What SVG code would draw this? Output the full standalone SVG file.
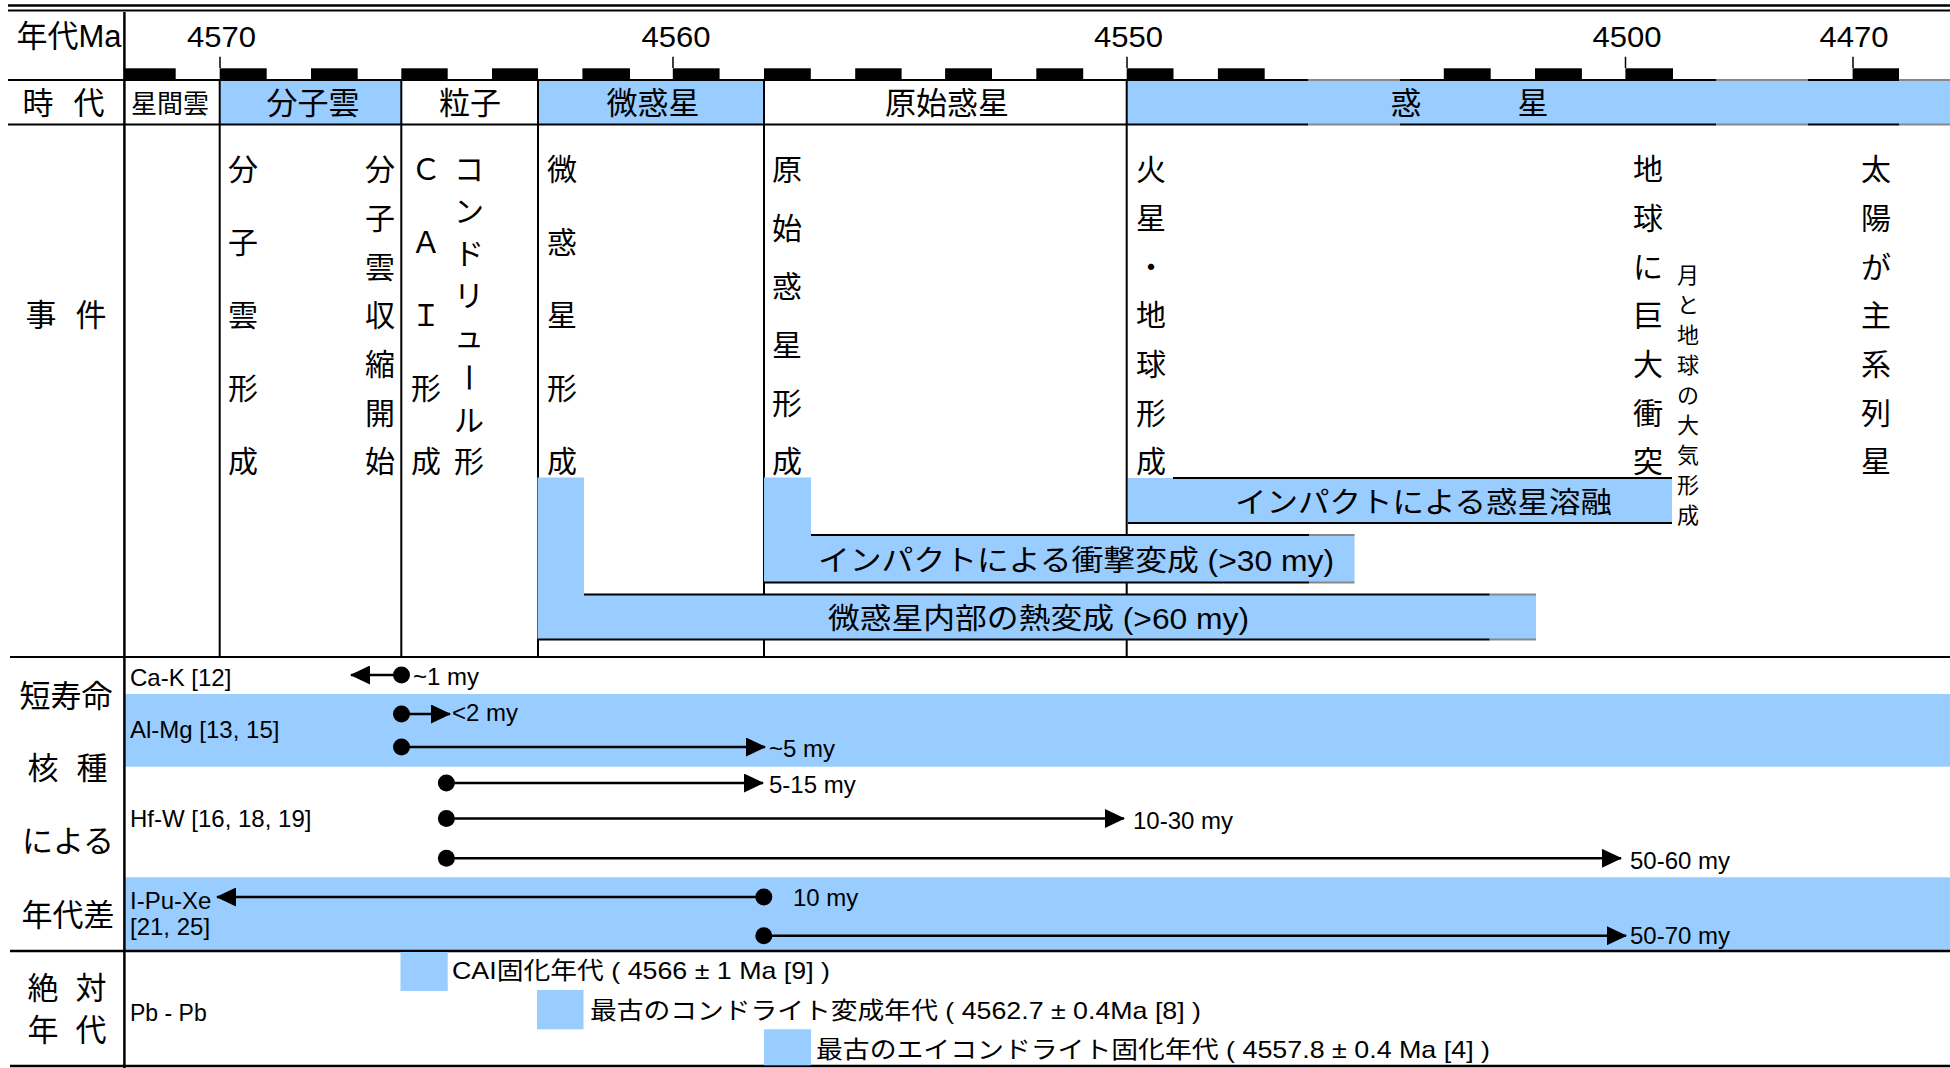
<svg xmlns="http://www.w3.org/2000/svg" width="1950" height="1068" viewBox="0 0 1950 1068">
<style>
text{font-family:'Liberation Sans','Noto Sans CJK JP',sans-serif;fill:#000}
.b31{font-size:31px}
.ev{font-size:30px;text-anchor:middle}
.ev22{font-size:22px;text-anchor:middle}
.num{font-size:30px}
.sm{font-size:24px}
.bx{font-size:29px}
.blue{fill:#99CCFF}
.blk{fill:#000}
.ln{stroke:#000;stroke-width:2;fill:none}
.gl{stroke:#888;stroke-width:2;fill:none}
.ar{stroke:#000;stroke-width:2.5;fill:none;marker-start:url(#dot);marker-end:url(#head)}
</style>
<defs>
<marker id="head" viewBox="0 0 20 19" refX="19" refY="9.5" markerWidth="20" markerHeight="19" markerUnits="userSpaceOnUse" orient="auto"><path d="M0,0 L20,9.5 L0,19 Z" fill="#000"/></marker>
<marker id="dot" viewBox="0 0 18 18" refX="9" refY="9" markerWidth="18" markerHeight="18" markerUnits="userSpaceOnUse" orient="auto"><circle cx="9" cy="9" r="8.5" fill="#000"/></marker>
</defs>
<rect width="1950" height="1068" fill="#fff"/>

<!-- backgrounds -->
<g id="bands">
<rect class="blue" x="219.7" y="80" width="181.6" height="44"/>
<rect class="blue" x="538" y="80" width="226" height="44"/>
<rect class="blue" x="1126.7" y="80" width="823.3" height="44"/>
<rect class="blue" x="124.4" y="694" width="1825.6" height="72.7"/>
<rect class="blue" x="124.4" y="877.3" width="1825.6" height="73"/>
</g>

<!-- frame lines -->
<g id="frame">
<line class="ln" x1="8" y1="5.5" x2="1950" y2="5.5" style="stroke-width:2.6"/>
<line class="ln" x1="8" y1="10.5" x2="1950" y2="10.5"/>
<line class="ln" x1="124.4" y1="12" x2="124.4" y2="1068" style="stroke-width:2.5"/>
<path class="ln" d="M8,80 H1308 M1400,80 H1716 M1808,80 H1899 M8,124.5 H1308 M1400,124.5 H1716 M1808,124.5 H1899"/>
<path class="gl" d="M1308,80 H1400 M1716,80 H1808 M1899,80 H1950 M1308,124.5 H1400 M1716,124.5 H1808 M1899,124.5 H1950"/>
<line class="ln" x1="10" y1="657" x2="1950" y2="657"/>
<line class="ln" x1="10" y1="951" x2="1950" y2="951" style="stroke-width:2.5"/>
<line class="ln" x1="10" y1="1066" x2="1950" y2="1066" style="stroke-width:2.5"/>
<path class="ln" d="M219.7,80 V657 M401.3,80 V657 M538,80 V657 M764,80 V657 M1126.7,80 V657"/>
</g>

<!-- time axis -->
<g id="axis">
<text x="16.5" y="46.5" class="b31" textLength="105" lengthAdjust="spacingAndGlyphs">年代Ma</text>
<text x="187" y="46.5" class="num" textLength="69" lengthAdjust="spacingAndGlyphs">4570</text>
<text x="641.5" y="46.5" class="num" textLength="69" lengthAdjust="spacingAndGlyphs">4560</text>
<text x="1094" y="46.5" class="num" textLength="69" lengthAdjust="spacingAndGlyphs">4550</text>
<text x="1592.5" y="46.5" class="num" textLength="69" lengthAdjust="spacingAndGlyphs">4500</text>
<text x="1819.5" y="46.5" class="num" textLength="69" lengthAdjust="spacingAndGlyphs">4470</text>
<path class="ln" style="stroke-width:1.5" d="M220,56.7 V68 M673,56.7 V68 M1127,56.7 V68 M1625.5,56.7 V68 M1853,56.7 V68"/>
<rect class="blk" x="124.4" y="68.3" width="51.3" height="11.7"/>
<rect class="blk" x="219.7" y="68.3" width="47" height="11.7"/>
<rect class="blk" x="311" y="68.3" width="46.7" height="11.7"/>
<rect class="blk" x="401.3" y="68.3" width="46.4" height="11.7"/>
<rect class="blk" x="492" y="68.3" width="46" height="11.7"/>
<rect class="blk" x="582.4" y="68.3" width="47.6" height="11.7"/>
<rect class="blk" x="672.8" y="68.3" width="46.8" height="11.7"/>
<rect class="blk" x="764" y="68.3" width="46.8" height="11.7"/>
<rect class="blk" x="855.2" y="68.3" width="46.4" height="11.7"/>
<rect class="blk" x="945.1" y="68.3" width="46.9" height="11.7"/>
<rect class="blk" x="1036.3" y="68.3" width="46.9" height="11.7"/>
<rect class="blk" x="1126.7" y="68.3" width="46.8" height="11.7"/>
<rect class="blk" x="1217.9" y="68.3" width="46.8" height="11.7"/>
<rect class="blk" x="1443.8" y="68.3" width="46.9" height="11.7"/>
<rect class="blk" x="1535" y="68.3" width="46.9" height="11.7"/>
<rect class="blk" x="1625.4" y="68.3" width="47.6" height="11.7"/>
<rect class="blk" x="1852.6" y="68.3" width="46.4" height="11.7"/>
</g>

<!-- period row -->
<g id="periods">
<text class="b31" y="114" text-anchor="middle"><tspan x="38">時</tspan><tspan x="89">代</tspan></text>
<text x="170" y="113" style="font-size:26px" text-anchor="middle">星間雲</text>
<text x="313" y="114" class="b31" text-anchor="middle">分子雲</text>
<text x="470" y="114" class="b31" text-anchor="middle">粒子</text>
<text x="653" y="114" class="b31" text-anchor="middle">微惑星</text>
<text x="947" y="114" class="b31" text-anchor="middle">原始惑星</text>
<text class="b31" y="114" text-anchor="middle"><tspan x="1406">惑</tspan><tspan x="1533">星</tspan></text>
</g>

<!-- row headers -->
<g id="row-labels">
<text class="b31" y="326" text-anchor="middle"><tspan x="41">事</tspan><tspan x="91">件</tspan></text>
<text class="b31" x="66" y="707" text-anchor="middle">短寿命</text>
<text class="b31" y="779" text-anchor="middle"><tspan x="43">核</tspan><tspan x="92">種</tspan></text>
<text class="b31" x="68" y="852" text-anchor="middle">による</text>
<text class="b31" x="68" y="926" text-anchor="middle">年代差</text>
<text class="b31" y="999" text-anchor="middle"><tspan x="43">絶</tspan><tspan x="91">対</tspan></text>
<text class="b31" y="1041" text-anchor="middle"><tspan x="43">年</tspan><tspan x="91">代</tspan></text>
</g>

<!-- event boxes -->
<g id="box-thermal">
<path class="blue" d="M537.5,477.5 H584 V594.5 H1536 V639.5 H537.5 Z"/>
<path class="ln" d="M584,594.5 H1489.7 M537.5,639.5 H1489.7"/>
<path class="gl" d="M1489.7,594.5 H1536 M1489.7,639.5 H1536"/>
<text class="bx" x="828" y="629" textLength="421" lengthAdjust="spacingAndGlyphs">微惑星内部の熱変成 (&gt;60 my)</text>
</g>
<g id="box-shock">
<path class="blue" d="M764,477.5 H811 V535 H1354.5 V582.5 H764 Z"/>
<path class="ln" d="M811,535 H1309 M764,582.5 H1309"/>
<path class="gl" d="M1309,535 H1354.5 M1309,582.5 H1354.5"/>
<text class="bx" x="818" y="571" textLength="516" lengthAdjust="spacingAndGlyphs">インパクトによる衝撃変成 (&gt;30 my)</text>
</g>
<g id="box-melt">
<rect class="blue" x="1128" y="478" width="544" height="45"/>
<path class="ln" d="M1173,478 H1672 M1128,523 H1672"/>
<text class="bx" x="1235" y="513" textLength="377" lengthAdjust="spacingAndGlyphs">インパクトによる惑星溶融</text>
</g>

<!-- events -->
<g id="ev-molecular-cloud">
<text class="ev" x="243" y="180.4">分</text><text class="ev" x="243" y="253.4">子</text><text class="ev" x="243" y="326.4">雲</text><text class="ev" x="243" y="399.4">形</text><text class="ev" x="243" y="472.4">成</text>
</g>
<g id="ev-collapse">
<text class="ev" x="380" y="180.4">分</text><text class="ev" x="380" y="229.1">子</text><text class="ev" x="380" y="277.7">雲</text><text class="ev" x="380" y="326.4">収</text><text class="ev" x="380" y="375.1">縮</text><text class="ev" x="380" y="423.7">開</text><text class="ev" x="380" y="472.4">始</text>
</g>
<g id="ev-cai">
<text class="ev" x="426" y="180.4">Ｃ</text><text class="ev" x="426" y="253.4">Ａ</text><text class="ev" x="426" y="326.4">Ｉ</text><text class="ev" x="426" y="399.4">形</text><text class="ev" x="426" y="472.4">成</text>
</g>
<g id="ev-chondrule">
<text class="ev" x="469" y="180.4">コ</text><text class="ev" x="469" y="222.1">ン</text><text class="ev" x="469" y="263.8">ド</text><text class="ev" x="469" y="305.5">リ</text><text class="ev" x="469" y="347.2">ュ</text><text class="ev" x="469" y="389" transform="rotate(90 469 377.6)">ー</text><text class="ev" x="469" y="430.7">ル</text><text class="ev" x="469" y="472.4">形</text>
</g>
<g id="ev-planetesimal">
<text class="ev" x="562" y="180.4">微</text><text class="ev" x="562" y="253.4">惑</text><text class="ev" x="562" y="326.4">星</text><text class="ev" x="562" y="399.4">形</text><text class="ev" x="562" y="472.4">成</text>
</g>
<g id="ev-protoplanet">
<text class="ev" x="787" y="180.4">原</text><text class="ev" x="787" y="238.8">始</text><text class="ev" x="787" y="297.2">惑</text><text class="ev" x="787" y="355.6">星</text><text class="ev" x="787" y="414">形</text><text class="ev" x="787" y="472.4">成</text>
</g>
<g id="ev-mars-earth">
<text class="ev" x="1151" y="180.4">火</text><text class="ev" x="1151" y="229.1">星</text><text class="ev" x="1151" y="277.7">・</text><text class="ev" x="1151" y="326.4">地</text><text class="ev" x="1151" y="375.1">球</text><text class="ev" x="1151" y="423.7">形</text><text class="ev" x="1151" y="472.4">成</text>
</g>
<g id="ev-giant-impact">
<text class="ev" x="1648" y="180.4">地</text><text class="ev" x="1648" y="229.1">球</text><text class="ev" x="1648" y="277.7">に</text><text class="ev" x="1648" y="326.4">巨</text><text class="ev" x="1648" y="375.1">大</text><text class="ev" x="1648" y="423.7">衝</text><text class="ev" x="1648" y="472.4">突</text>
</g>
<g id="ev-atmosphere">
<text class="ev22" x="1688" y="283.4">月</text><text class="ev22" x="1688" y="313.4">と</text><text class="ev22" x="1688" y="343.4">地</text><text class="ev22" x="1688" y="373.4">球</text><text class="ev22" x="1688" y="403.4">の</text><text class="ev22" x="1688" y="433.4">大</text><text class="ev22" x="1688" y="463.4">気</text><text class="ev22" x="1688" y="493.4">形</text><text class="ev22" x="1688" y="523.4">成</text>
</g>
<g id="ev-main-sequence">
<text class="ev" x="1876" y="180.4">太</text><text class="ev" x="1876" y="229.1">陽</text><text class="ev" x="1876" y="277.7">が</text><text class="ev" x="1876" y="326.4">主</text><text class="ev" x="1876" y="375.1">系</text><text class="ev" x="1876" y="423.7">列</text><text class="ev" x="1876" y="472.4">星</text>
</g>

<!-- nuclide labels -->
<g id="nuclide-labels">
<text class="sm" x="130" y="686">Ca-K [12]</text>
<text class="sm" x="130" y="738">Al-Mg [13, 15]</text>
<text class="sm" x="130" y="827">Hf-W [16, 18, 19]</text>
<text class="sm" x="130" y="909">I-Pu-Xe</text>
<text class="sm" x="130" y="935">[21, 25]</text>
</g>

<!-- connectors -->
<g id="connectors">
<line class="ar" x1="401.5" y1="675" x2="351" y2="675"/>
<line class="ar" x1="401.5" y1="714" x2="450" y2="714"/>
<line class="ar" x1="401.5" y1="747" x2="765" y2="747"/>
<line class="ar" x1="446.4" y1="783" x2="763" y2="783"/>
<line class="ar" x1="446.4" y1="818.5" x2="1124" y2="818.5"/>
<line class="ar" x1="446.4" y1="858.3" x2="1621" y2="858.3"/>
<line class="ar" x1="763.8" y1="897" x2="217" y2="897"/>
<line class="ar" x1="763.8" y1="935.7" x2="1626" y2="935.7"/>
</g>
<g id="connector-labels">
<text class="sm" x="413" y="685">~1 my</text>
<text class="sm" x="452" y="721">&lt;2 my</text>
<text class="sm" x="769" y="757">~5 my</text>
<text class="sm" x="769" y="793">5-15 my</text>
<text class="sm" x="1133" y="829">10-30 my</text>
<text class="sm" x="1630" y="869">50-60 my</text>
<text class="sm" x="793" y="906">10 my</text>
<text class="sm" x="1630" y="944">50-70 my</text>
</g>

<!-- absolute ages -->
<g id="abs-ages">
<text class="sm" x="130" y="1021" style="font-size:23px">Pb - Pb</text>
<rect class="blue" x="400.5" y="952" width="47.2" height="39"/>
<text class="sm" x="452" y="979" textLength="378" lengthAdjust="spacingAndGlyphs">CAI固化年代 ( 4566 ± 1 Ma [9] )</text>
<rect class="blue" x="537" y="990" width="46.5" height="39.3"/>
<text class="sm" x="590" y="1019" textLength="611" lengthAdjust="spacingAndGlyphs">最古のコンドライト変成年代 ( 4562.7 ± 0.4Ma [8] )</text>
<rect class="blue" x="764" y="1029.3" width="47" height="36"/>
<text class="sm" x="816" y="1058" textLength="674" lengthAdjust="spacingAndGlyphs">最古のエイコンドライト固化年代 ( 4557.8 ± 0.4 Ma [4] )</text>
</g>
</svg>
